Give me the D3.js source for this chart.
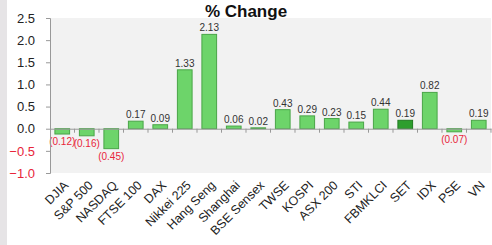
<!DOCTYPE html>
<html>
<head>
<meta charset="utf-8">
<script src="https://cdn.jsdelivr.net/npm/d3@7"></script>
<style>
  body { margin: 0; background: #fff; }
  svg { display: block; font-family: "Liberation Sans", Arial, sans-serif; }
</style>
</head>
<body>
<svg id="chart"></svg>
<script>
const WIDTH = 492;
const HEIGHT = 245;

const categories = ["DJIA", "S&P 500", "NASDAQ", "FTSE 100", "DAX", "Nikkei 225", "Hang Seng",
  "Shanghai", "BSE Sensex", "TWSE", "KOSPI", "ASX 200", "STI", "FBMKLCI", "SET", "IDX", "PSE", "VN"];
const changes = [-0.12, -0.16, -0.45, 0.17, 0.09, 1.33, 2.13, 0.06, 0.02, 0.43, 0.29, 0.23, 0.15,
  0.44, 0.19, 0.82, -0.07, 0.19];
const yTicks = [2.5, 2.0, 1.5, 1.0, 0.5, 0.0, -0.5, -1.0];
const highlight = ["SET"];

const margin = { top: 18, right: 1, bottom: 72, left: 50 };

const svg = d3.select("#chart").attr("width", WIDTH).attr("height", HEIGHT);

// gray strip at left edge
svg.append("rect").attr("x", 0).attr("y", 0).attr("width", 7).attr("height", HEIGHT)
  .attr("fill", "#e6e4e6");

const xScale = d3.scaleBand()
  .domain(categories)
  .range([margin.left, WIDTH - margin.right])
  .paddingInner(0.4)
  .paddingOuter(0.2);

const yScale = d3.scaleLinear()
  .domain([-1.0, 2.5])
  .range([HEIGHT - margin.bottom, margin.top]);

svg.append("rect")
  .attr("x", margin.left)
  .attr("y", margin.top)
  .attr("width", WIDTH - margin.right - margin.left)
  .attr("height", HEIGHT - margin.bottom - margin.top)
  .attr("fill", "#f2f2f2");

svg.append("text")
  .attr("x", 246)
  .attr("y", 17)
  .attr("text-anchor", "middle")
  .attr("font-size", 17)
  .attr("font-weight", "bold")
  .attr("fill", "#111")
  .text("% Change");

const fmt = (v) => v < 0 ? `(${Math.abs(v).toFixed(2)})` : v.toFixed(2);

svg.selectAll(".bar")
  .data(changes)
  .enter()
  .append("rect")
  .attr("class", "bar")
  .attr("x", (d, i) => xScale(categories[i]))
  .attr("width", xScale.bandwidth())
  .attr("y", (d) => yScale(Math.max(0, d)))
  .attr("height", (d) => Math.abs(yScale(d) - yScale(0)))
  .attr("fill", (d, i) => highlight.includes(categories[i]) ? "#2e9e2e" : "#6dd46a")
  .attr("stroke", (d, i) => highlight.includes(categories[i]) ? "#217a21" : "#4aa548")
  .attr("stroke-width", 1);

svg.selectAll(".val")
  .data(changes)
  .enter()
  .append("text")
  .attr("class", "val")
  .attr("x", (d, i) => xScale(categories[i]) + xScale.bandwidth() / 2)
  .attr("y", (d) => d < 0 ? yScale(d) + 11 : yScale(d) - 3)
  .attr("text-anchor", "middle")
  .attr("font-size", 10)
  .attr("fill", (d) => d < 0 ? "#e8253a" : "#333")
  .text(fmt);

// x axis on the zero line
const xAxis = d3.axisBottom(xScale).tickSize(0).tickFormat("");
const gx = svg.append("g")
  .attr("transform", `translate(0, ${yScale(0)})`)
  .call(xAxis);
gx.select(".domain").attr("stroke", "#999");
gx.selectAll(".sep")
  .data(categories.map((c) => xScale(c) - xScale.step() * 0.2).slice(1).concat([WIDTH - margin.right]))
  .enter()
  .append("line")
  .attr("class", "sep")
  .attr("x1", (d) => d).attr("x2", (d) => d)
  .attr("y1", 0).attr("y2", 4)
  .attr("stroke", "#999");

// category labels below the plot
svg.selectAll(".cat")
  .data(categories)
  .enter()
  .append("text")
  .attr("class", "cat")
  .attr("transform", (d) => `translate(${xScale(d) + xScale.bandwidth() / 2 + 7}, ${HEIGHT - margin.bottom + 13}) rotate(-45)`)
  .attr("text-anchor", "end")
  .attr("font-size", 12.5)
  .attr("fill", "#222")
  .text((d) => d);

const yAxis = d3.axisLeft(yScale).tickValues(yTicks).tickSize(4).tickFormat(d3.format(".1f"));
const gy = svg.append("g")
  .attr("transform", `translate(${margin.left}, 0)`)
  .call(yAxis);
gy.select(".domain").attr("stroke", "#999");
gy.selectAll(".tick line").attr("stroke", "#999");
gy.selectAll(".tick text")
  .attr("x", -15)
  .attr("font-size", 13)
  .attr("font-family", "Liberation Sans, Arial, sans-serif")
  .attr("fill", (d) => d < 0 ? "#e8253a" : "#222");
</script>
</body>
</html>
